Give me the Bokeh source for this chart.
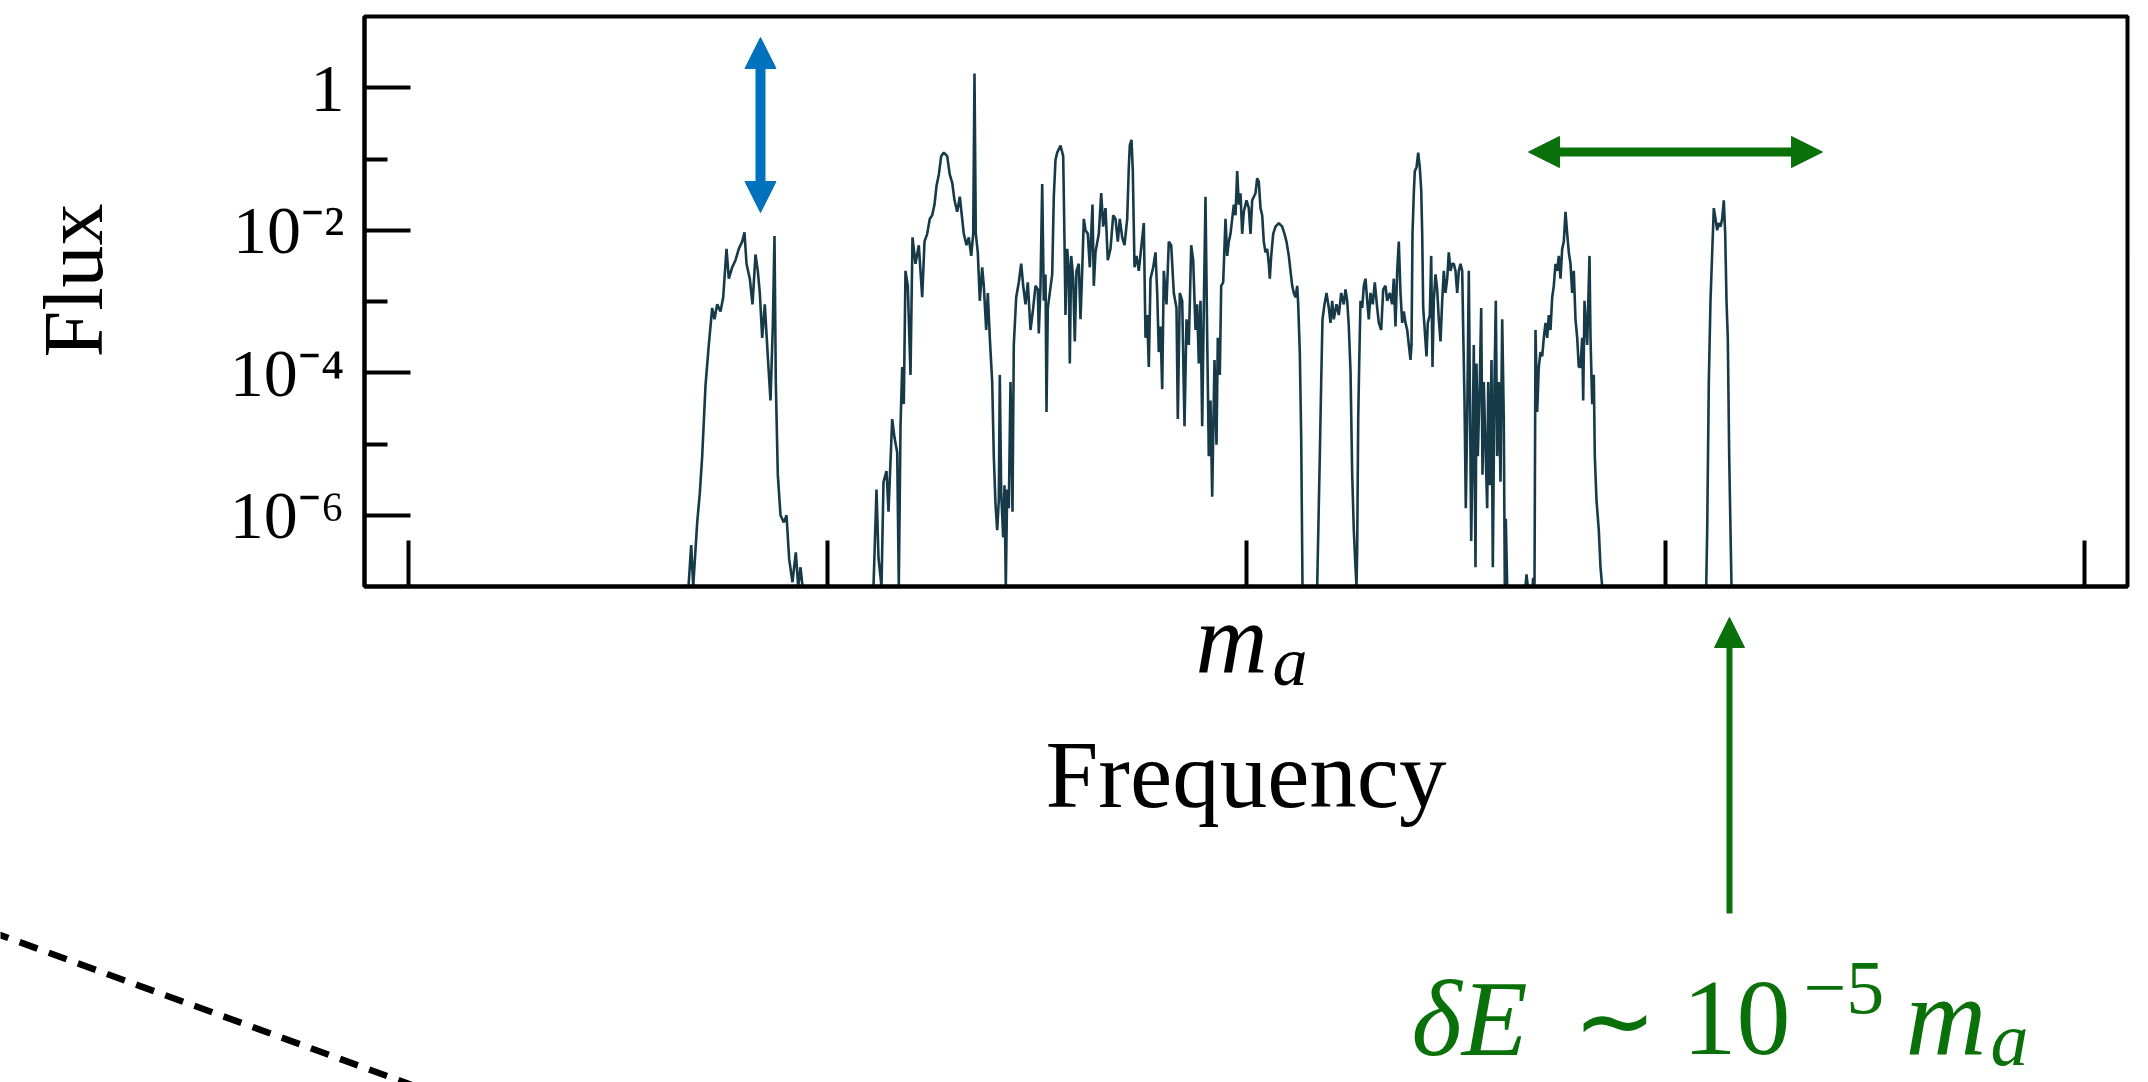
import math
from bokeh.plotting import figure
from bokeh.models import Range1d, FixedTicker, Label, Arrow, NormalHead, LogAxis, LinearAxis, BoxAnnotation
from bokeh.embed import file_html
from bokeh.resources import INLINE

# ---------------- data ----------------
# frequency channel (arbitrary units, m_a at channel 838) and log10 of the flux;
# -7 marks where the spectrum drops to the floor of the plot (1e-7)
channel = [
    270, 280, 282.7, 284.7, 288.7, 291.3, 293.7, 297, 300.3, 303.7, 306, 308.7, 312, 314.7, 318,
    320.3, 323.7, 327, 330.3, 333.7, 336, 338, 341.3, 344, 347, 349.3, 351.3, 353.7, 356.3, 359.3,
    362, 364.3, 366, 367.3, 369.3, 372, 375.3, 378, 380.7, 384, 387.3, 389.7, 392, 394,
    465, 468, 470, 473, 475, 478, 480, 483.7, 486, 488.7, 490.3, 492, 493.7, 495.3, 497, 499.3,
    502, 504, 507, 510.3, 513.7, 516, 518.7, 521.3, 523.7, 526, 528, 530.3, 532.7, 535.3, 538.7,
    541.3, 543.7, 546, 548.7, 551.3, 553.7, 555.3, 558, 560.3, 562.7, 564.7, 566, 567.3, 569.3,
    571.3, 573.7, 575.3, 577.7, 579.3, 581.3, 583.7, 585.3, 587, 588.7, 590.3, 591.3, 592.7,
    594.7, 596, 597.3, 598.7, 600.3, 602, 604, 605.3, 607.7, 610.3, 612.7, 614.7, 617, 619.3,
    622, 624.7, 627, 629.3, 630.3, 632, 633.7, 635.3,
    637, 638, 639.3, 641.3, 643.7, 645.3, 647, 648.7, 652, 654.7, 656, 657, 658.7, 660.3, 661.3,
    662.7, 664.7, 666.3, 668, 670.3, 672, 673.7, 675.3, 677, 679.3, 681.3, 682.7, 684, 685.3, 687,
    690.3, 692.7, 694.7, 697, 699.3, 702, 704.7, 707, 709.3, 711.3, 713.7, 716, 718.7, 720.3, 721.3,
    723, 724.3, 726, 728, 730.3, 733, 735.3, 737, 738.7, 740.3, 742, 744.7, 747, 748.7, 750.3, 752,
    753.7, 755.3, 758, 760.3, 762.7, 765.3, 768, 769.3, 771.3, 773.7, 776, 778, 780.3, 782.7, 784.7,
    787, 788.7, 790.3, 792, 793.7, 795.3, 797, 798.7, 800.3, 802, 803.7, 806, 808, 809.3, 811.3, 812.7,
    814.7, 817, 818.7, 820.3, 822, 823.7, 825.3, 827, 828.7, 830.3, 832, 833.7, 835.3, 838, 840.3,
    842, 843.7, 847, 848.7, 850.3, 852, 853.7, 855.3, 857, 858.7, 860.3, 861.3, 862.7, 864.7, 867,
    870.3, 873.7, 876, 878, 880.3, 882, 883.7, 885.3, 887, 888.7, 889.7, 891.3, 892.7, 894,
    908.7, 909.3, 911.3, 912.7, 914, 916, 918, 920.3, 922, 923.7, 925.3, 928, 930.3, 932.7, 935.3,
    937, 938.7, 940.3, 942, 943.7, 945.3, 947, 948, 948.7, 949.7, 950.7, 952, 953.7, 955.3, 957,
    958.7, 960.3, 962, 964.3, 966.3, 968.7, 970.3, 972.7, 974.7, 977, 978.7, 981.3, 983.7, 985.3,
    987, 988.7, 990.3, 992,
    993.7, 995.3, 997, 998.7, 1000.3, 1002, 1003, 1004, 1005.3, 1006.3, 1008, 1009.7, 1011.3,
    1012.7, 1013.7, 1014.7, 1016, 1018, 1019.3, 1021.3, 1022.7, 1024, 1025.3, 1027, 1028.7, 1030.3,
    1032, 1033.7, 1035.3, 1037, 1038.7, 1040.3, 1042, 1043.7, 1045.3, 1047, 1048.7, 1050.3, 1052,
    1053.7, 1054.7, 1056, 1057.3, 1058.7, 1060.3, 1061.3, 1062.7, 1064, 1065.3, 1067, 1068, 1069.3,
    1071.3, 1072.7, 1074, 1075.3, 1077, 1078.7, 1079.7, 1081.3, 1083, 1084.3, 1086, 1087.3, 1088.7,
    1090.3, 1092, 1093.7, 1095.3, 1096.3, 1097.3, 1098.7, 1117, 1118, 1119.3, 1124, 1124.7, 1126,
    1127, 1128.7, 1130.3, 1132, 1133.7, 1135.3, 1137, 1138.7, 1140.3, 1142, 1143.7, 1145.3, 1147,
    1148.7, 1150.3, 1152, 1153.7, 1155.3, 1157, 1158.7, 1160.3, 1162, 1163.7, 1165.3, 1167, 1168.7,
    1170.3, 1172, 1173.7, 1174.7, 1176, 1177.3, 1178.7, 1181, 1182, 1183.7, 1185.3, 1186.3, 1188,
    1190.3, 1192, 1193.7,
    1297.7, 1298.7, 1300.3, 1302, 1303.7, 1305.3, 1307, 1308.7, 1310.3, 1312, 1313.7, 1315.3,
    1316.7, 1318, 1319.3, 1320.7, 1322, 1323, 1340,
]
log_flux = [
    -7, -7, -6.42, -7, -6.10, -5.69, -5.17, -4.18, -3.61, -3.09, -3.25, -3.04, -3.14, -2.94, -2.26,
    -2.68, -2.52, -2.42, -2.26, -2.16, -2.03, -2.47, -2.68, -3.04, -2.34, -2.57, -2.88, -3.51, -3.04, -3.77,
    -4.39, -3.35, -2.08, -4.13, -5.43, -6.0, -6.10, -6.0, -6.62, -6.94, -6.52, -7, -6.73, -7,
    -7, -5.64, -6.6, -7, -5.53, -5.38, -5.95, -4.65, -4.91, -5.12, -7, -4.75, -3.92, -4.44, -2.57, -2.78,
    -4.03, -2.10, -2.47, -2.21, -2.94, -2.16, -2.05, -1.84, -1.79, -1.64, -1.38, -1.22, -0.96, -0.91, -0.96,
    -1.22, -1.33, -1.58, -1.74, -1.53, -1.84, -2.05, -2.21, -2.10, -2.36, -2.05, 0.2, -2.05, -2.31,
    -2.99, -2.52, -2.78, -3.40, -2.88, -3.51, -4.13, -5.17, -5.84, -6.21, -5.79, -4.03, -5.69,
    -6.31, -5.58, -7, -5.64, -5.90, -4.13, -5.95, -3.61, -2.94, -2.73, -2.47, -2.78, -3.04, -2.73,
    -3.40, -3.09, -2.78, -2.83, -3.45, -2.78, -1.35, -2.99,
    -2.62, -4.55, -3.09, -2.88, -2.62, -1.53, -1.01, -0.91, -0.81, -0.96, -2.16, -3.19, -2.26, -2.57, -3.87,
    -2.36, -2.68, -3.56, -2.57, -2.47, -3.25, -2.57, -1.84, -2.0, -2.05, -2.52, -2.05, -1.64, -2.78, -2.31,
    -2.05, -1.48, -1.95, -1.69, -2.42, -2.26, -1.79, -1.84, -2.16, -1.84, -2.10, -2.21, -1.84, -1.12, -0.81,
    -0.73, -1.17, -2.52, -2.36, -2.57, -2.21, -1.90, -3.51, -3.19, -3.92, -2.68, -2.52, -2.31, -2.88, -3.71, -3.35,
    -4.23, -2.57, -3.04, -2.16, -2.21, -2.88, -3.09, -4.65, -2.88, -2.99, -4.75, -3.25, -3.61, -2.21, -2.42,
    -3.40, -3.04, -3.87, -2.99, -4.75, -3.09, -1.53, -3.51, -5.17, -4.39, -5.74, -3.82, -5.01, -3.51, -4.03, -2.78,
    -2.73, -1.84, -2.36, -2.16, -2.05, -1.84, -1.64, -1.79, -1.17, -1.64, -1.48, -2.05, -1.74, -1.58, -1.69,
    -2.05, -1.58, -1.48, -1.27, -1.32, -1.69, -1.79, -2.16, -2.31, -2.26, -2.47, -2.68, -2.36, -2.05, -1.95,
    -1.90, -1.95, -2.05, -2.16, -2.36, -2.57, -2.78, -2.88, -2.94, -2.78, -3.04, -3.71, -4.91, -7,
    -7, -6.57, -5.17, -4.13, -3.25, -3.04, -2.88, -3.09, -3.30, -2.99, -3.25, -3.04, -3.19, -2.88, -3.04,
    -2.83, -2.99, -3.35, -3.97, -5.43, -6.21, -6.73, -7, -6.47, -4.65, -3.87, -2.99, -3.09, -2.78, -2.68,
    -2.99, -3.25, -2.88, -3.04, -2.73, -3.09, -3.30, -3.40, -2.83, -2.78, -2.99, -2.88, -3.04, -2.68,
    -3.35, -2.57, -2.16, -2.88,
    -3.30, -3.14, -3.30, -3.40, -3.61, -3.82, -3.61, -2.05, -1.48, -1.17, -1.12, -0.91, -1.12,
    -1.43, -2.05, -3.09, -3.35, -3.77, -3.30, -3.19, -2.36, -3.92, -2.99, -2.62, -2.83, -3.25,
    -3.56, -2.99, -2.57, -2.88, -2.68, -2.31, -2.57, -2.47, -2.47, -2.57, -2.88, -2.57, -2.47,
    -2.57, -3.40, -4.39, -5.90, -4.65, -2.57, -4.13, -6.36, -5.17, -3.61, -6.73, -3.87, -5.17,
    -4.13, -3.09, -5.43, -4.13, -5.06, -5.90, -4.13, -5.58, -3.82, -6.73, -4.13, -2.99, -5.17,
    -4.13, -5.53, -3.25, -4.65, -7, -6.05, -7, -7, -6.83, -7, -7, -6.88, -7,
    -3.40, -4.55, -3.92, -3.71, -3.77, -3.51, -3.30, -3.51, -3.19, -3.40, -2.94, -2.78, -2.47,
    -2.57, -2.36, -2.68, -2.26, -2.16, -1.74, -2.05, -2.31, -2.47, -2.88, -2.57, -3.25, -3.51,
    -3.92, -3.92, -3.51, -4.39, -2.99, -3.30, -3.61, -2.36, -3.51, -4.44, -4.03, -5.17, -5.79,
    -6.21, -6.73, -7,
    -7, -6.21, -4.13, -2.99, -2.31, -1.69, -1.84, -2.0, -1.90, -1.95, -1.84, -1.58,
    -2.05, -2.99, -3.51, -5.17, -6.21, -7, -7,
]
flux = [10 ** v for v in log_flux]

y_bounds = (1e-7, 10)
y_major_ticks = [1e-6, 1e-4, 1e-2, 1]
y_minor_ticks = [1e-5, 1e-3, 1e-1]
y_tick_labels = {1e-6: "10\u207b\u2076", 1e-4: "10\u207b\u2074", 1e-2: "10\u207b\u00b2", 1: "1"}
x_bounds = (-44, 1719)
x_ticks = [0, 419, 838, 1257, 1676]

# ---------------- styling ----------------
LINE = "#173a49"
BLUE = "#0072bd"
GREEN = "#0a700a"
SERIF = "Liberation Serif"
W, H = 2148, 1082


# canvas pixel -> data coordinates (the frame spans the whole canvas)
def X(px):
    return px - 408


def Y(py):
    return 10 ** (1 - (py - 16) / 71.25)


p = figure(width=W, height=H, title=None,
           x_range=Range1d(X(0), X(W)), y_range=Range1d(Y(H), Y(0)),
           y_axis_type="log", x_axis_location=None, y_axis_location=None,
           output_backend="svg", toolbar_location=None, min_border=0)
p.grid.visible = False
p.outline_line_color = None
p.background_fill_color = "white"
p.border_fill_color = "white"

p.line(channel, flux, line_color=LINE, line_width=2.6)

# y axis on the left edge of the plot box
ya = LogAxis(fixed_location=x_bounds[0], bounds=y_bounds,
             ticker=FixedTicker(ticks=y_major_ticks, minor_ticks=y_minor_ticks),
             major_label_overrides=y_tick_labels,
             major_label_text_font=SERIF, major_label_text_font_size="68px",
             major_label_text_color="black", major_label_standoff=20,
             major_tick_in=46, major_tick_out=0, minor_tick_in=23, minor_tick_out=0,
             major_tick_line_width=4, minor_tick_line_width=4,
             major_tick_line_color="black", minor_tick_line_color="black",
             axis_line_width=4, axis_line_color="black")
p.add_layout(ya, "left")

# x axis on the bottom edge of the plot box (tick marks only, plus the title)
xa = LinearAxis(fixed_location=y_bounds[0], bounds=x_bounds,
                ticker=FixedTicker(ticks=[], minor_ticks=x_ticks),
                major_tick_in=0, major_tick_out=0,
                minor_tick_in=46, minor_tick_out=0,
                minor_tick_line_width=4, minor_tick_line_color="black",
                axis_line_width=4, axis_line_color="black",
                axis_label="Frequency", axis_label_text_font=SERIF,
                axis_label_text_font_size="95px", axis_label_text_font_style="normal",
                axis_label_text_color="black", axis_label_standoff=135)
p.add_layout(xa, "below")

# plot box
p.add_layout(BoxAnnotation(left=x_bounds[0], right=x_bounds[1], bottom=y_bounds[0], top=y_bounds[1],
                           fill_color=None, fill_alpha=0, line_color="black", line_alpha=1.0,
                           line_width=4))

SHIFT = 0.34  # vertical offset (in em) between the label anchor and the glyph baseline


def label(text, px, py, size, color="black", style="normal", align="left"):
    """Place text with its baseline at canvas pixel (px, py)."""
    p.add_layout(Label(x=X(px), y=Y(py - SHIFT * size), text=text, text_font=SERIF,
                       text_font_size=f"{size}px", text_font_style=style, text_color=color,
                       text_align=align, text_baseline="alphabetic"))


# y axis title (rotated, baseline at x = 102)
p.add_layout(Label(x=X(102 - SHIFT * 84), y=Y(280), text="Flux", text_font=SERIF,
                   text_font_size="84px", text_color="black", text_align="center",
                   text_baseline="alphabetic", angle=math.pi / 2))

# m_a marker under the centre tick
label("m", 1195, 672, 100, style="italic")
label("a", 1272, 685, 70, style="italic")

# green annotation text
label("\u03b4E", 1411, 1055, 108, color=GREEN, style="italic")
label("\u223c", 1572, 1055, 100, color=GREEN)
label("10", 1682, 1055, 108, color=GREEN)
label("\u22125", 1803, 1013, 76, color=GREEN)
label("m", 1905, 1055, 112, color=GREEN, style="italic")
label("a", 1990, 1064, 76, color=GREEN, style="italic")

# arrows
p.add_layout(Arrow(x_start=X(760), y_start=Y(212), x_end=X(760), y_end=Y(37),
                   start=NormalHead(size=31, fill_color=BLUE, line_color=BLUE),
                   end=NormalHead(size=31, fill_color=BLUE, line_color=BLUE),
                   line_color=BLUE, line_width=10))
p.add_layout(Arrow(x_start=X(1528), y_start=Y(151.5), x_end=X(1822), y_end=Y(151.5),
                   start=NormalHead(size=31, fill_color=GREEN, line_color=GREEN),
                   end=NormalHead(size=31, fill_color=GREEN, line_color=GREEN),
                   line_color=GREEN, line_width=9))
p.add_layout(Arrow(x_start=X(1729), y_start=Y(913), x_end=X(1729), y_end=Y(617),
                   start=None, end=NormalHead(size=30, fill_color=GREEN, line_color=GREEN),
                   line_color=GREEN, line_width=6))
# dashed guide line in the lower-left corner
p.add_layout(Arrow(x_start=X(-10), y_start=Y(931), x_end=X(440), y_end=Y(1095),
                   start=None, end=None, line_color="black", line_width=6.5, line_dash="19 12"))

open("out.html", "w").write(file_html(p, INLINE))
